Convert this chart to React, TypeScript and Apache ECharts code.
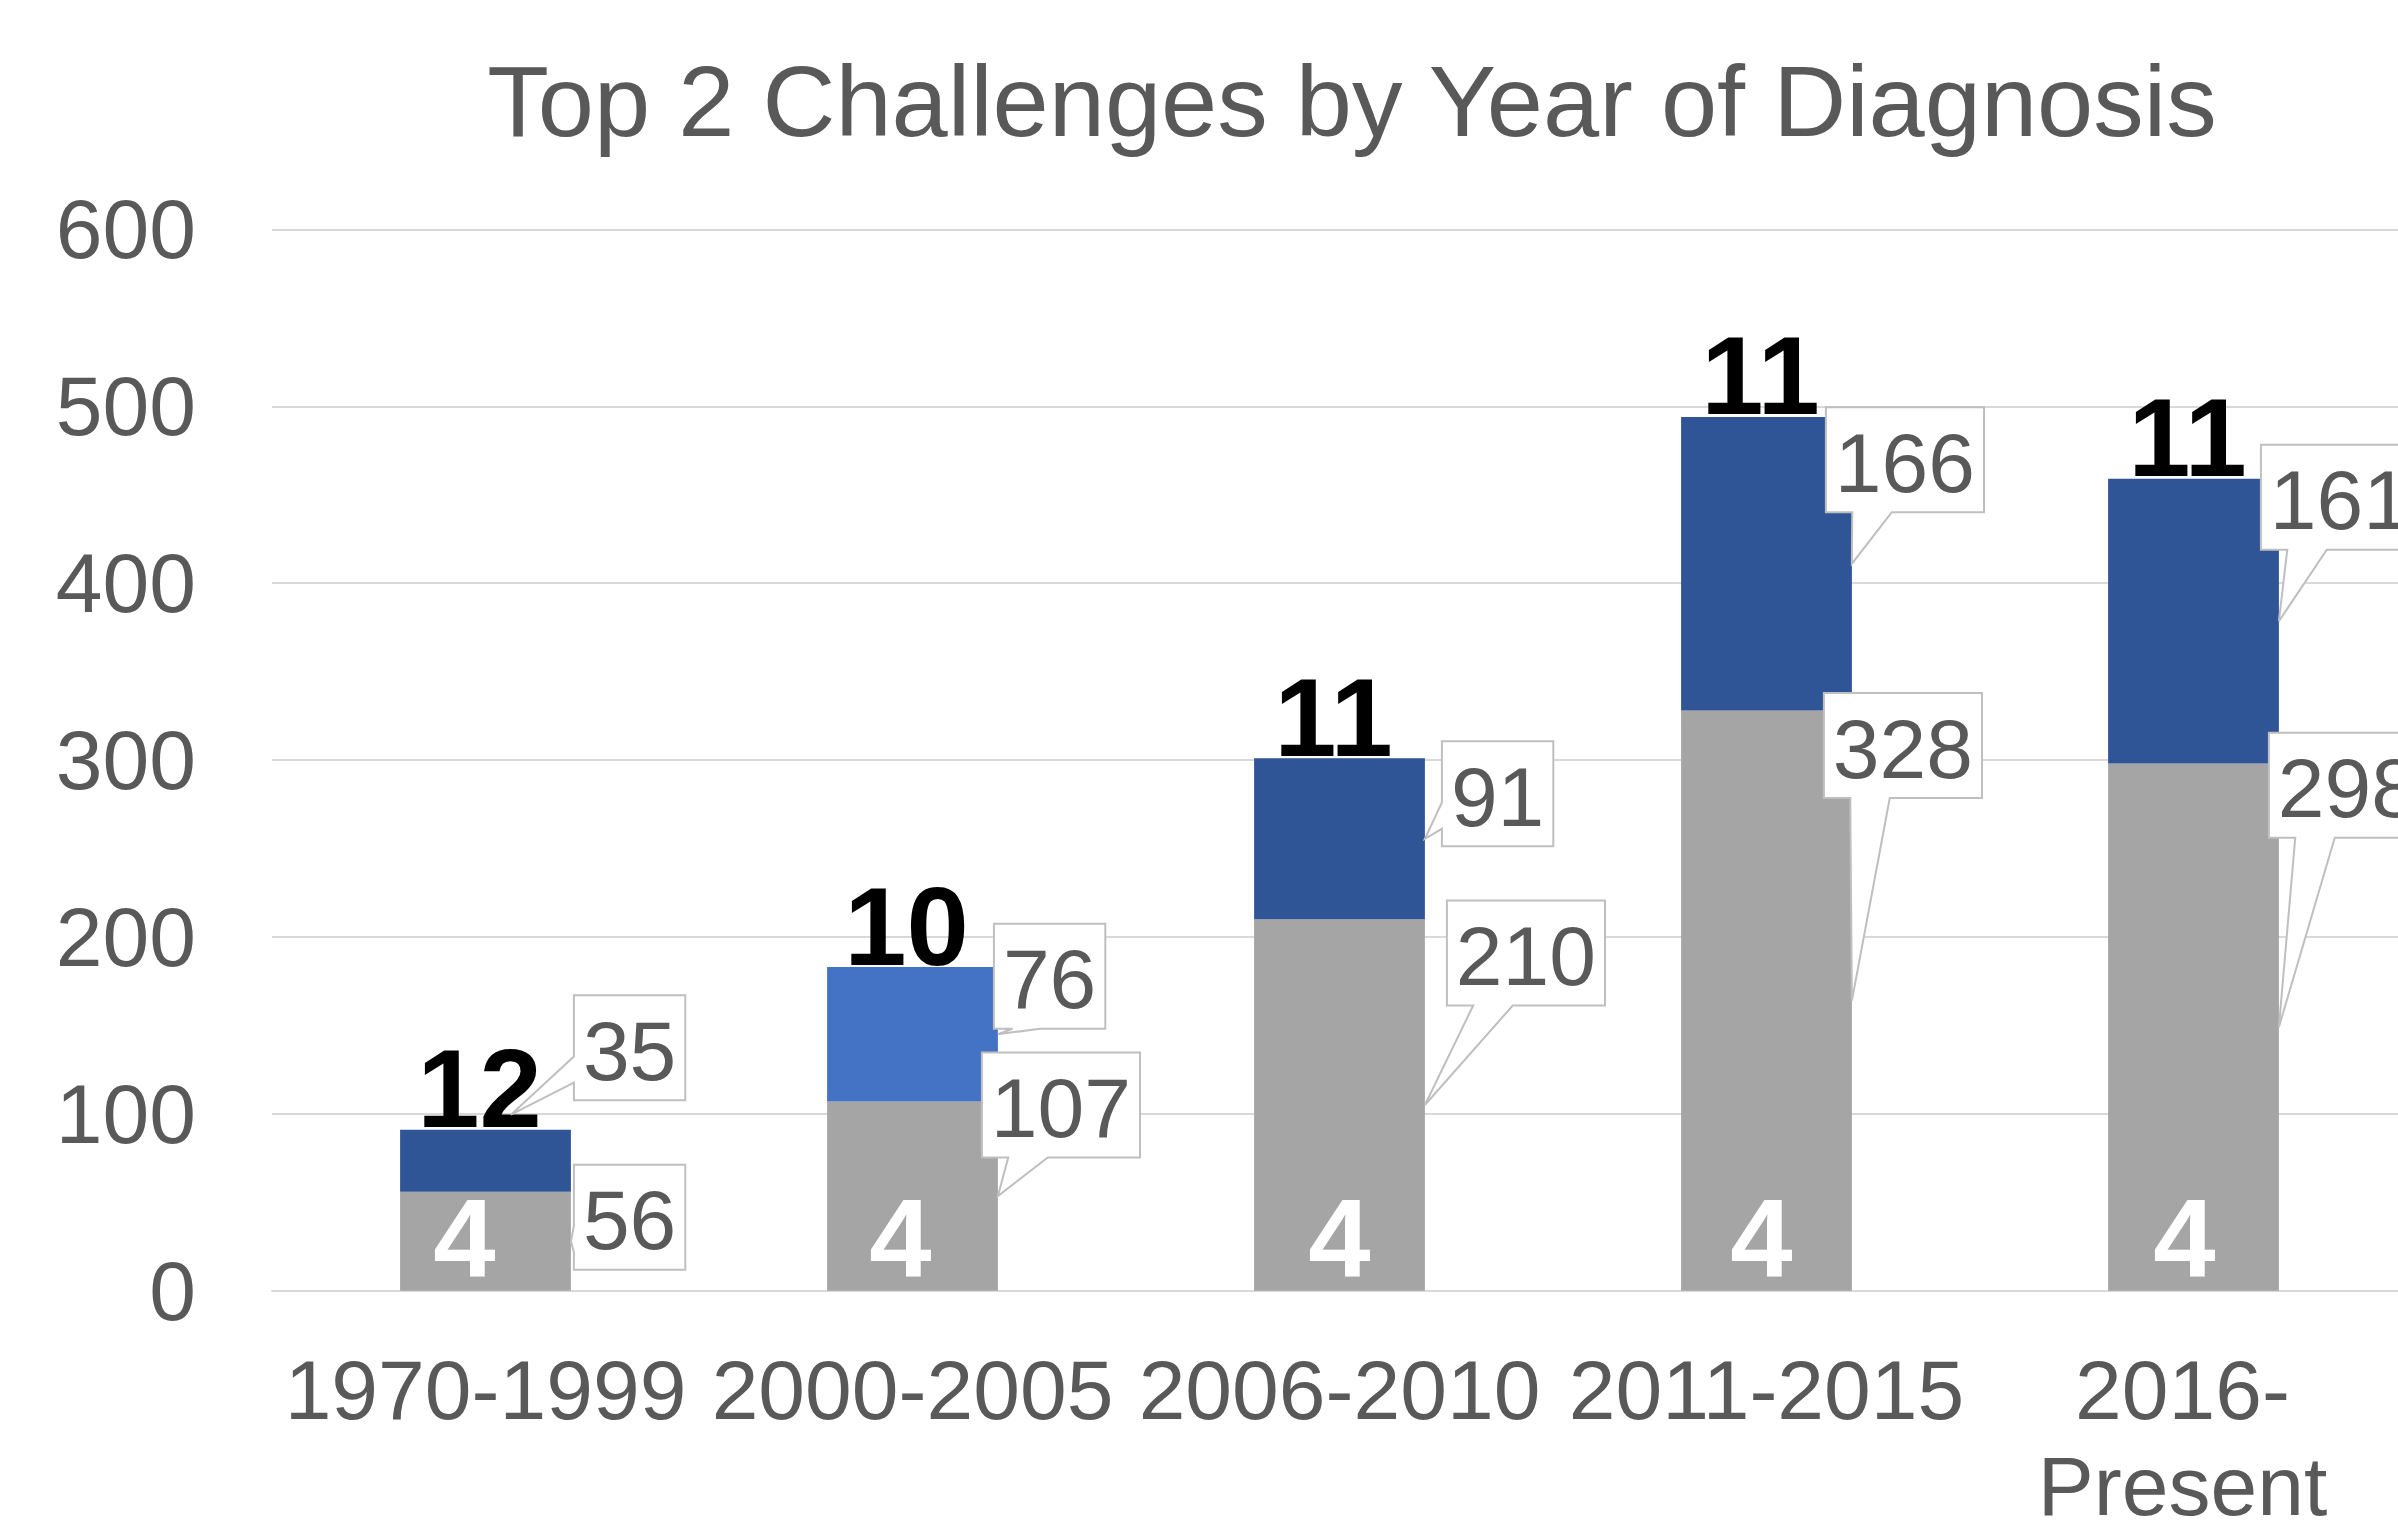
import React, { useEffect, useRef } from 'react';
import * as echarts from 'echarts';

const categories = ['1970-1999', '2000-2005', '2006-2010', '2011-2015', '2016-Present'];
const lowerValues = [56, 107, 210, 328, 298];
const upperValues = [35, 76, 91, 166, 161];
const baseCounts = [4, 4, 4, 4, 4];
const topCounts = [12, 10, 11, 11, 11];

const upperColors = ['#2F5597', '#4472C4', '#2F5597', '#2F5597', '#2F5597'];
const lowerColor = '#A5A5A5';

// callout layout only: [dx of box left from bar right edge, dy of box centre from segment middle]
const lowerLabelShift = [[3, -24], [-16, -91], [22, -152], [-28, -255], [-10, -242]];
const upperLabelShift = [[3, -113], [-4, -58], [17, -45], [-26, -104], [-18, -124]];
// tip shift of the callout pointer from (bar right edge, segment middle)
const lowerTipShift = [[0, 0], [0, 0], [0, 0], [0, 0], [0, 0]];
const upperTipShift = [[-60, -46], [0, 0], [0, 0], [0, 0], [0, 0]];
// horizontal nudge of the base count labels
const baseCountShift = [-21, -12, 0, -5, -9];
// right padding of category labels (moves the wrapped last label slightly left)
const categoryPadRight = [0, 0, 0, 0, 22];

const FONT = '"Liberation Sans", Arial, sans-serif';
const TEXT = '#595959';
const BAR_RATIO = 0.4;

function calloutPoints(l: number, t: number, w: number, h: number, tx: number, ty: number) {
  const r = l + w;
  const b = t + h;
  const hc = l + w / 2;
  const vc = t + h / 2;
  const dxPos = tx - hc;
  const dyPos = ty - vc;
  const dq = (dxPos * h) / w;
  const useVertical = Math.abs(dyPos) - Math.abs(dq) > 0;
  const x1 = l + (w * (dxPos > 0 ? 7 : 2)) / 12;
  const x2 = l + (w * (dxPos > 0 ? 10 : 5)) / 12;
  const y1 = t + (h * (dyPos > 0 ? 7 : 2)) / 12;
  const y2 = t + (h * (dyPos > 0 ? 10 : 5)) / 12;
  const pts: number[][] = [];
  pts.push([l, t]);
  if (useVertical && dyPos < 0) pts.push([x1, t], [tx, ty], [x2, t]);
  pts.push([r, t]);
  if (!useVertical && dxPos > 0) pts.push([r, y1], [tx, ty], [r, y2]);
  pts.push([r, b]);
  if (useVertical && dyPos > 0) pts.push([x2, b], [tx, ty], [x1, b]);
  pts.push([l, b]);
  if (!useVertical && dxPos < 0) pts.push([l, y2], [tx, ty], [l, y1]);
  return pts;
}

function makeCalloutSeries(name: string, shifts: number[][], tips: number[][], data: number[][]) {
  return {
    name,
    type: 'custom',
    silent: true,
    clip: false,
    z: 4,
    encode: { x: 0, y: 1 },
    data,
    renderItem: (params: any, api: any) => {
      const i = params.dataIndex;
      const center = api.coord([api.value(0), api.value(1)]);
      const band = api.size([1, 0])[0];
      const edgeX = center[0] + (band * BAR_RATIO) / 2;
      const text = String(api.value(2));
      const w = text.length * 46.7 + 18;
      const h = 105;
      const l = edgeX + shifts[i][0];
      const t = center[1] + shifts[i][1] - h / 2;
      const tx = edgeX + tips[i][0];
      const ty = center[1] + tips[i][1];
      return {
        type: 'group',
        children: [
          {
            type: 'polygon',
            shape: { points: calloutPoints(l, t, w, h, tx, ty) },
            style: { fill: '#FFFFFF', stroke: '#BFBFBF', lineWidth: 2 },
          },
          {
            type: 'text',
            x: l + w / 2,
            y: t + h / 2 + 3,
            style: {
              text,
              fill: TEXT,
              font: `84px ${FONT}`,
              align: 'center',
              verticalAlign: 'middle',
            },
          },
        ],
      };
    },
  };
}

export default function App() {
  const ref = useRef<HTMLDivElement>(null);
  useEffect(() => {
    if (!ref.current) return;
    const chart = echarts.init(ref.current, null, { renderer: 'svg' });
    chart.setOption({
      animation: false,
      backgroundColor: '#FFFFFF',
      title: {
        text: 'Top 2 Challenges by Year of Diagnosis',
        left: 1352,
        top: 50,
        padding: 0,
        textAlign: 'center',
        textStyle: { fontFamily: FONT, fontSize: 101, lineHeight: 101, fontWeight: 'normal', color: TEXT },
      },
      grid: { left: 272, right: -9, top: 229.4, bottom: 229.3, containLabel: false, outerBoundsMode: 'none' },
      xAxis: {
        type: 'category',
        data: categories.map((c, i) =>
          categoryPadRight[i] ? { value: c, textStyle: { padding: [0, categoryPadRight[i], 0, 0] } } : c
        ),
        axisLine: { show: true, lineStyle: { color: '#D9D9D9', width: 2 } },
        axisTick: { show: false },
        axisLabel: {
          interval: 0,
          margin: 51,
          fontFamily: FONT,
          fontSize: 84,
          lineHeight: 96,
          color: TEXT,
          formatter: (v: string) => v.replace('-P', '-\nP'),
        },
      },
      yAxis: {
        type: 'value',
        min: 0,
        max: 600,
        interval: 100,
        axisLine: { show: false },
        axisTick: { show: false },
        splitLine: { lineStyle: { color: '#D9D9D9', width: 2 } },
        axisLabel: { margin: 76, fontFamily: FONT, fontSize: 84, color: TEXT },
      },
      series: [
        {
          name: 'Lower',
          type: 'bar',
          stack: 'total',
          barWidth: `${BAR_RATIO * 100}%`,
          data: lowerValues,
          itemStyle: { color: lowerColor },
          z: 2,
        },
        {
          name: 'Upper',
          type: 'bar',
          stack: 'total',
          barWidth: `${BAR_RATIO * 100}%`,
          data: upperValues.map((v, i) => ({ value: v, itemStyle: { color: upperColors[i] } })),
          z: 2,
        },
        makeCalloutSeries(
          'LowerCallout',
          lowerLabelShift,
          lowerTipShift,
          lowerValues.map((v, i) => [i, v / 2, v])
        ),
        makeCalloutSeries(
          'UpperCallout',
          upperLabelShift,
          upperTipShift,
          upperValues.map((v, i) => [i, lowerValues[i] + v / 2, v])
        ),
        {
          name: 'BaseCount',
          type: 'scatter',
          symbolSize: 1,
          silent: true,
          itemStyle: { color: 'rgba(0,0,0,0)', opacity: 1 },
          data: baseCounts.map((n, i) => [i, 0]),
          label: {
            show: true,
            position: 'inside',
            formatter: (p: any) => String(baseCounts[p.dataIndex]),
            fontFamily: FONT,
            fontSize: 112,
            fontWeight: 'bold',
            color: '#FFFFFF',
            opacity: 1,
          },
          labelLayout: (p: any) => ({ dx: baseCountShift[p.dataIndex], dy: -52 }),
          z: 5,
        },
        {
          name: 'TopCount',
          type: 'scatter',
          symbolSize: 1,
          silent: true,
          itemStyle: { color: 'rgba(0,0,0,0)', opacity: 1 },
          data: topCounts.map((n, i) => [i, lowerValues[i] + upperValues[i]]),
          label: {
            show: true,
            position: 'inside',
            offset: [-6, -41],
            formatter: (p: any) => String(topCounts[p.dataIndex]),
            fontFamily: FONT,
            fontSize: 112,
            fontWeight: 'bold',
            color: '#000000',
            opacity: 1,
          },
          z: 3,
        },
      ],
    });
    return () => chart.dispose();
  }, []);
  return (
    <div
      ref={ref}
      style={{ position: 'fixed', left: 0, top: 0, width: 2398, height: 1520, overflow: 'hidden' }}
    />
  );
}
